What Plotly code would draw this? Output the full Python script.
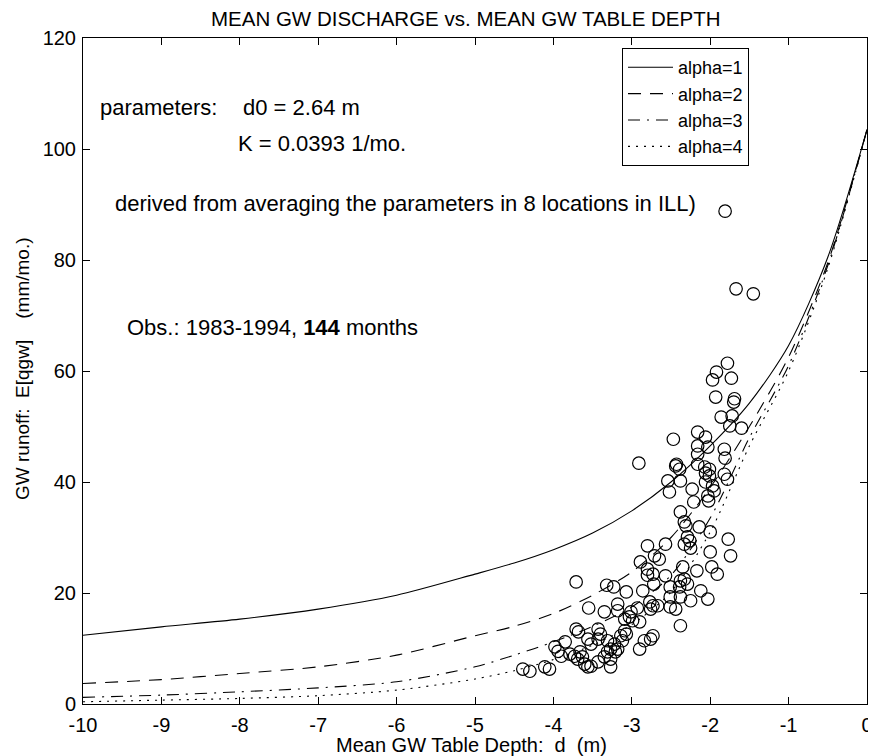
import plotly.graph_objects as go

# ---- data ----
obs_depth = [
    -3.71, -3.32, -3.23, -3.07, -2.86, -2.80, -2.73, -2.72,
    -3.55, -3.35, -3.18, -3.18, -3.01, -2.93, -2.77, -2.73, -2.76,
    -3.09, -3.03, -2.99, -2.90,
    -3.71, -3.68, -3.43, -3.40, -3.09, -3.14, -3.07,
    -2.84, -2.76, -2.73,
    -3.85, -3.56, -3.52, -3.43, -3.31, -3.22, -3.27, -3.21, -3.31, -3.35, -3.27, -3.18, -3.12,
    -3.98, -3.94, -3.90, -3.79, -3.73, -3.66, -3.63, -3.69, -3.60, -3.56, -3.52, -3.43, -3.27,
    -4.39, -4.30, -4.11, -4.05, -2.90,
    -2.21, -2.02, -2.38, -2.33, -2.31, -2.14, -2.00, -1.77,
    -2.29, -2.26, -2.33, -2.25, -2.57, -2.80, -2.71, -2.65,
    -2.00, -1.74, -1.98, -1.91, -2.35, -2.17, -2.89, -2.80,
    -2.57, -2.33, -2.38, -2.29, -2.39, -2.51,
    -2.12, -2.03, -2.38, -2.51, -2.25,
    -2.67, -2.51, -2.44, -2.38,
    -1.78, -1.92, -1.97, -1.73, -1.93, -1.69, -1.70, -1.86, -1.72, -1.75, -1.60,
    -2.16, -2.06, -2.03, -2.47, -2.16, -2.16, -1.82, -1.81,
    -2.91, -2.43, -2.44, -2.39, -2.16, -2.07, -2.01, -2.01, -2.06, -1.82, -1.78,
    -2.54, -2.38, -2.52, -2.06, -1.97, -1.95, -2.03, -2.23,
    -1.81, -1.67, -1.45,
]
obs_runoff = [
    22.0, 21.4, 21.1, 20.2, 20.4, 23.2, 23.4, 21.6,
    17.3, 16.6, 18.0, 16.8, 16.6, 17.3, 18.4, 17.7, 17.1,
    15.3, 15.7, 15.0, 14.8,
    13.5, 13.0, 13.5, 12.6, 13.2, 12.3, 12.6,
    11.4, 11.7, 12.3,
    11.2, 11.7, 10.8, 11.7, 11.4, 10.8, 9.9, 9.4, 9.4, 8.5, 8.1, 9.9, 11.4,
    10.3, 9.5, 8.6, 9.0, 8.6, 9.4, 8.5, 8.1, 7.2, 6.7, 6.8, 7.6, 6.7,
    6.3, 5.9, 6.7, 6.3, 9.9,
    36.4, 36.6, 34.6, 32.8, 32.1, 31.9, 31.0, 29.7,
    30.1, 29.4, 28.8, 28.1, 28.8, 28.5, 26.7, 26.1,
    27.4, 26.7, 24.7, 23.4, 24.7, 24.0, 25.6, 24.3,
    23.1, 22.5, 22.2, 21.6, 21.1, 21.1,
    20.4, 18.9, 19.3, 19.3, 18.6,
    17.7, 17.5, 17.1, 14.1,
    61.4, 59.8, 58.4, 58.7, 55.3, 55.0, 54.4, 51.7, 51.9, 50.1, 49.7,
    49.0, 48.1, 46.3, 47.7, 46.5, 45.0, 45.9, 44.3,
    43.4, 43.2, 42.9, 42.3, 43.2, 42.7, 42.3, 41.1, 41.6, 41.4, 40.5,
    40.2, 40.2, 38.2, 40.0, 39.3, 38.4, 37.5, 38.7,
    88.8, 74.8, 73.9,
]

curve_depth = [-10, -9, -8, -7, -6, -5, -4.5, -4, -3.5, -3, -2.5, -2, -1.5, -1, -0.5, 0]
alpha1 = [12.4, 13.9, 15.3, 17.1, 19.6, 23.4, 25.4, 27.8, 30.8, 34.8, 40.0, 46.5, 54.2, 64.6, 80.5, 103.5]
alpha2 = [3.7, 4.4, 5.5, 6.7, 8.8, 12.3, 14.0, 16.3, 19.6, 23.8, 30.0, 39.0, 50.0, 62.5, 79.5, 103.5]
alpha3 = [1.2, 1.6, 2.2, 2.9, 4.0, 6.7, 8.8, 11.2, 14.0, 17.5, 23.2, 33.5, 48.0, 61.0, 79.0, 103.5]
alpha4 = [0.4, 0.7, 1.0, 1.5, 2.5, 4.5, 6.0, 8.0, 10.6, 14.3, 20.2, 31.0, 46.5, 60.0, 78.5, 103.5]

curve_names = ["alpha=1", "alpha=2", "alpha=3", "alpha=4"]
x_ticks = [-10, -9, -8, -7, -6, -5, -4, -3, -2, -1, 0]
y_ticks = [0, 20, 40, 60, 80, 100, 120]

FONT = "Liberation Sans, Arial, Helvetica, sans-serif"

# the page body adds an 8px margin, so the figure is laid out 8px smaller
OFF = 8
FIG_W, FIG_H = 876 - OFF, 756 - OFF
# plot area in page pixels (as seen in the reference)
L, R, T, B = 83, 867, 38, 704
W, H = R - L, B - T

fig = go.Figure()

fig.add_trace(go.Scatter(
    x=obs_depth, y=obs_runoff, mode="markers", showlegend=False,
    marker=dict(symbol="circle-open", size=12.5, color="black", line=dict(width=1.2, color="black")),
))

dashes = ["solid", "13px,9px", "12px,7px,2px,7px", "2px,6px"]
for name, ys, dash in zip(curve_names, [alpha1, alpha2, alpha3, alpha4], dashes):
    fig.add_trace(go.Scatter(
        x=curve_depth, y=ys, mode="lines", name=name,
        line=dict(color="black", width=1.1, dash=dash, shape="spline", smoothing=0.8),
    ))

def ann(text, px, py, size=22, xanchor="left", angle=0):
    fig.add_annotation(
        text=text, xref="paper", yref="paper",
        x=(px - L) / W, y=(B - py) / H,
        xanchor=xanchor, yanchor="middle", showarrow=False, textangle=angle,
        borderpad=0, font=dict(family=FONT, size=size, color="black"),
    )

ann("parameters:", 99, 107)
ann("d0 = 2.64 m", 242, 107)
ann("K = 0.0393 1/mo.", 237, 143)
ann("derived from averaging the parameters in 8 locations in ILL)", 114, 203)
ann("Obs.: 1983-1994, <b>144</b> months", 126, 327)
# axis titles
ann("Mean GW Table Depth:\u00a0 d\u00a0 (m)", 471, 745, size=20, xanchor="center")
ann("GW runoff:\u00a0 E[qgw]\u00a0\u00a0\u00a0 (mm/mo.)", 23, 369, size=19, xanchor="center", angle=-90)
# chart title (as annotation so it sits exactly where the reference has it)
ann("MEAN GW DISCHARGE vs. MEAN GW TABLE DEPTH", 466, 19, size=20.5, xanchor="center")

axis_common = dict(
    showline=True, linecolor="black", linewidth=1, mirror="ticks",
    ticks="inside", ticklen=7, tickcolor="black", tickwidth=1,
    showgrid=False, zeroline=False, automargin=False,
    tickfont=dict(family=FONT, size=20, color="black"),
)

fig.update_layout(
    width=FIG_W, height=FIG_H,
    margin=dict(l=L - OFF, r=FIG_W - (R - OFF), t=T - OFF, b=FIG_H - (B - OFF)),
    paper_bgcolor="white", plot_bgcolor="white",
    font=dict(family=FONT, color="black"),
    xaxis=dict(range=[-10, 0], tickvals=x_ticks, ticktext=[str(v) for v in x_ticks],
               ticklabelstandoff=3, **axis_common),
    yaxis=dict(range=[0, 120], tickvals=y_ticks, ticktext=[str(v) for v in y_ticks],
               ticklabelstandoff=2, **axis_common),
    legend=dict(x=(622 - L) / W, y=(B - 48) / H, xanchor="left", yanchor="top",
                bordercolor="black", borderwidth=1, bgcolor="white",
                font=dict(family=FONT, size=18, color="black"),
                itemwidth=45, tracegroupgap=0),
)

fig.write_html("out.html")
